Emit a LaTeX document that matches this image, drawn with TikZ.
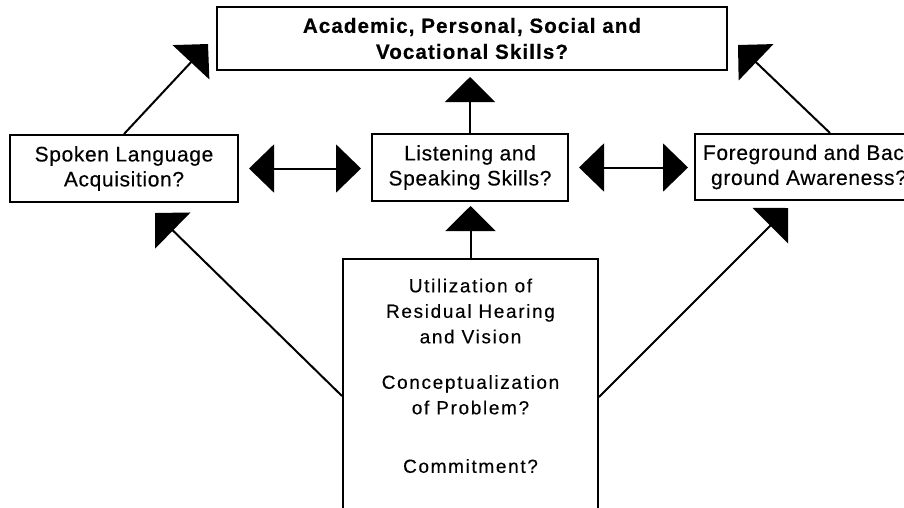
\documentclass[tikz,border=0pt]{standalone}
\usepackage{fontspec}
\setmainfont{Liberation Sans}
\newfontfamily\boxfont[LetterSpace=3,FakeBold=0.3]{Liberation Sans}
\newfontfamily\goalfont[LetterSpace=5.5,FakeBold=0.6]{Liberation Sans}
\newfontfamily\basefont[LetterSpace=8.7,FakeBold=0.3]{Liberation Sans}
\usetikzlibrary{arrows.meta,positioning,calc}
\tikzset{skill/.style={draw, line width=2pt, minimum height=67pt, align=center,
  font=\boxfont\fontsize{21}{25}\selectfont},
  fat/.style={line width=2pt, -{Triangle[length=25pt,width=50pt]}},
  fatboth/.style={line width=2pt,
  {Triangle[length=25pt,width=48pt]}-{Triangle[length=25pt,width=48pt]}}}

\begin{document}
\begin{tikzpicture}[x=1pt,y=-1pt]
  \useasboundingbox (0,0) rectangle (904,507);
  \clip (0,0) rectangle (904,507);
  % goal box on top
  \node[skill, minimum width=510pt, minimum height=63pt,
    font=\goalfont\bfseries\fontsize{20.5}{26}\selectfont] (goal) at (472,38.5)
    {Academic, Personal, Social and\\Vocational Skills?};
  % middle row
  \node[skill, minimum width=228pt] (spoken) at (124,168.5) {Spoken Language\\Acquisition?};
  \node[skill, minimum width=196pt] (listen) at (470,167.5) {Listening and\\Speaking Skills?};
  \node[skill, minimum width=228pt, minimum height=66pt] (ground) at (809,167)
    {Foreground and Back\\ground Awareness?};
  % base box, runs off the bottom edge
  \node[draw, line width=2pt, minimum width=255pt, minimum height=280pt, anchor=north]
    (base) at (470.5,258) {};
  \node[below=17pt of base.north, align=center,
    font=\basefont\fontsize{19}{25.5}\selectfont] (basetext)
    {Utilization of\\Residual Hearing\\and Vision\\[20pt]Conceptualization\\of Problem?\\[33pt]Commitment?};
  % free arrow ends
  \coordinate (tl) at (208,44);
  \coordinate (tr) at (738,45);
  \coordinate (bl) at (155,213);
  \coordinate (br) at (788,208);
  \draw[fat] (spoken.north) -- (tl);
  \draw[fat] ($(ground.north)+(21,0)$) -- (tr);
  \draw[fat, shorten >=6pt] (listen.north) -- (listen.north |- goal.south);
  \draw[fat, shorten >=4pt] (base.north) -- (base.north |- listen.south);
  \draw[fatboth, shorten <=10pt, shorten >=10pt] (spoken.east) -- (spoken.east -| listen.west);
  \draw[fatboth, shorten <=10pt, shorten >=6pt] (listen.east) -- (listen.east -| ground.west);
  \draw[fat] ($(base.north west)+(0,138)$) -- (bl);
  \draw[fat] ($(base.north east)+(0,139)$) -- (br);
\end{tikzpicture}
\end{document}
